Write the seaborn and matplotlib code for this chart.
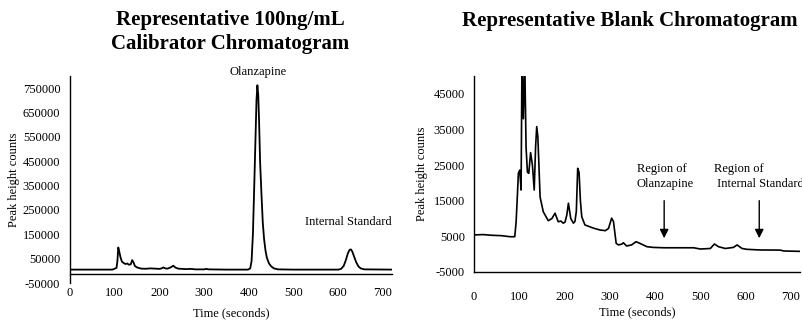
import matplotlib
matplotlib.use("Agg")
import matplotlib.pyplot as plt
import seaborn as sns
import numpy as np

# ---- data: calibrator chromatogram (time s, counts) ----
cal_time = [0, 50, 95, 100, 104, 106, 108, 110, 113, 116, 120, 124, 128, 132, 136, 139, 142,
            145, 150, 155, 160, 170, 180, 190, 200, 205, 209, 213, 218, 225, 231, 236, 242,
            250, 260, 270, 280, 290, 300, 305, 310, 350, 398, 403, 406, 409, 412, 415, 417,
            419, 421, 423, 425, 428, 431, 434, 437, 440, 445, 450, 456, 465, 500, 600, 606,
            612, 617, 621, 625, 628, 631, 635, 640, 645, 650, 658, 720]
cal_counts = [5000, 5000, 5000, 9000, 12000, 40000, 96000, 80000, 55000, 38000, 32000, 28000,
              30000, 25000, 27000, 44000, 35000, 20000, 14000, 11000, 9000, 8500, 10000, 9000,
              8000, 10000, 14000, 10000, 9000, 14000, 21000, 13000, 9000, 8000, 7000, 8000,
              6000, 6000, 6000, 8000, 6000, 5000, 5000, 10000, 40000, 150000, 350000, 560000,
              700000, 762000, 720000, 600000, 450000, 320000, 200000, 130000, 85000, 55000,
              30000, 18000, 10000, 6000, 5000, 5000, 8000, 20000, 45000, 70000, 86000, 88000,
              80000, 60000, 35000, 18000, 10000, 6000, 5000]

# ---- data: blank chromatogram ----
blank_time = [0, 20, 40, 60, 80, 90, 93, 96, 98, 101, 104, 106, 109, 112, 115, 118, 121, 125,
              129, 133, 136, 138.5, 141, 146, 153, 164, 172, 179, 186, 192, 197, 201, 205,
              208.5, 213.7, 219.6, 223, 226, 229, 232, 235, 238, 245, 264, 278, 290, 297,
              304, 308, 314, 319, 326, 330, 337, 348, 358, 367, 382, 396, 420, 450, 485, 500,
              522, 531, 540, 555, 573, 581, 592, 603, 632, 676, 684, 717, 720]
blank_counts = [5400, 5500, 5300, 5200, 4900, 4900, 9000, 17000, 22700, 23600, 18000, 55000,
                38000, 55000, 30000, 23000, 22700, 28500, 25000, 18000, 30000, 35800, 33000,
                16000, 11900, 9400, 10000, 11500, 9100, 9300, 8700, 9000, 11000, 14300, 10000,
                8700, 9200, 12000, 24100, 23000, 15000, 10500, 8200, 7300, 6800, 6600, 7200,
                10100, 9200, 3050, 2600, 2800, 3200, 2300, 2600, 3500, 3000, 2100, 1900, 1800,
                1800, 1800, 1450, 1600, 2860, 2100, 1600, 1900, 2600, 1600, 1360, 1180, 1150,
                900, 800, 800]

cal_yticks = [-50000, 50000, 150000, 250000, 350000, 450000, 550000, 650000, 750000]
blank_yticks = [-5000, 5000, 15000, 25000, 35000, 45000]
xticks = [0, 100, 200, 300, 400, 500, 600, 700]

sns.set_style("white")
plt.rcParams['font.family'] = ['Liberation Serif', 'DejaVu Serif']
plt.rcParams['axes.unicode_minus'] = False
plt.rcParams['text.color'] = 'black'
plt.rcParams['axes.labelcolor'] = 'black'
plt.rcParams['xtick.color'] = 'black'
plt.rcParams['ytick.color'] = 'black'

fig = plt.figure(figsize=(8.03, 3.2), dpi=100)
W, H = 803, 320
ax1 = fig.add_axes([70 / W, 1 - 283 / H, 322 / W, 207 / H])
ax2 = fig.add_axes([474 / W, 1 - 272 / H, 326 / W, 196 / H])

sns.lineplot(x=cal_time, y=cal_counts, ax=ax1, color='black', lw=1.3, estimator=None, sort=False)
sns.lineplot(x=blank_time, y=blank_counts, ax=ax2, color='black', lw=1.2, estimator=None, sort=False)

# left axes
ax1.set_xlim(0, 720)
ax1.set_ylim(-50000, 800000)
ax1.set_xticks(xticks)
ax1.set_yticks(cal_yticks)
ax1.set_yticklabels([str(v) for v in cal_yticks])
for s in ['top', 'right']:
    ax1.spines[s].set_visible(False)
ax1.spines['bottom'].set_position(('data', -12000))
for s in ['left', 'bottom']:
    ax1.spines[s].set_color('black')
    ax1.spines[s].set_linewidth(1.0)
ax1.tick_params(axis='x', direction='inout', length=7, width=1.0, pad=6, labelsize=9, colors='black')
ax1.tick_params(axis='y', direction='out', length=5, width=1.0, pad=2, labelsize=9, colors='black')
ax1.set_xlabel("Time (seconds)", fontsize=9)
ax1.set_ylabel("Peak height counts", fontsize=9)
ax1.xaxis.set_label_coords(0.5, (283 - 313) / 207)
ax1.xaxis.label.set_va('center')
ax1.yaxis.set_label_coords((14 - 70) / 322, 0.5)
ax1.yaxis.label.set_va('center')
ax1.text(420, 816000, "Olanzapine", ha='center', va='center', fontsize=9, clip_on=False)
ax1.text(622, 200000, "Internal Standard", ha='center', va='center', fontsize=9)

# right axes
ax2.set_xlim(0, 720)
ax2.set_ylim(-5000, 50000)
ax2.set_xticks(xticks)
ax2.set_yticks(blank_yticks)
ax2.set_yticklabels([str(v) for v in blank_yticks])
for s in ['top', 'right']:
    ax2.spines[s].set_visible(False)
for s in ['left', 'bottom']:
    ax2.spines[s].set_color('black')
    ax2.spines[s].set_linewidth(1.0)
ax2.tick_params(axis='x', direction='inout', length=7, width=1.0, pad=10, labelsize=9, colors='black')
ax2.tick_params(axis='y', direction='inout', length=7, width=1.0, pad=3, labelsize=9, colors='black')
ax2.set_xlabel("Time (seconds)", fontsize=9)
ax2.set_ylabel("Peak height counts", fontsize=9)
ax2.xaxis.set_label_coords(0.5, (272 - 312) / 196)
ax2.xaxis.label.set_va('center')
ax2.yaxis.set_label_coords((422 - 474) / 326, 0.5)
ax2.yaxis.label.set_va('center')

ax2.text(360, 21800, "Region of\nOlanzapine", ha='left', va='center', fontsize=9, linespacing=1.3)
ax2.text(530, 21800, "Region of\n Internal Standard", ha='left', va='center', fontsize=9,
         linespacing=1.3, clip_on=False)
arrow = dict(arrowstyle='-|>', color='black', lw=1.0, mutation_scale=13)
ax2.annotate('', xy=(420, 3700), xytext=(420, 15800), arrowprops=arrow)
ax2.annotate('', xy=(630, 3700), xytext=(630, 15800), arrowprops=arrow)

# titles
fig.text(230 / W, 1 - 32 / H, "Representative 100ng/mL\nCalibrator Chromatogram",
         ha='center', va='center', fontsize=15, fontweight='bold', linespacing=1.2, color='black')
fig.text(630 / W, 1 - 21 / H, "Representative Blank Chromatogram",
         ha='center', va='center', fontsize=15, fontweight='bold', color='black')

fig.savefig("out.png", dpi=100)
